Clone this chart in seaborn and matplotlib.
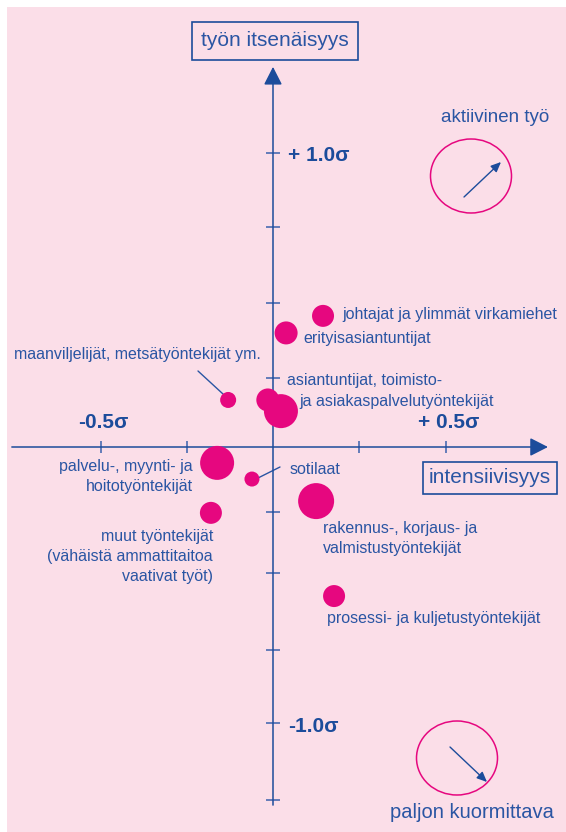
import numpy as np
import pandas as pd
import matplotlib.pyplot as plt
import seaborn as sns
from matplotlib.patches import Rectangle, Ellipse

# ammattiryhmät ja niiden sijainti (keskihajontayksikköinä)
ryhmat = ['johtajat', 'erityisasiantuntijat', 'asiantuntijat', 'toimisto- ja asiakaspalvelu',
          'maanviljelijät', 'palvelu-, myynti- ja hoito', 'sotilaat', 'muut työntekijät',
          'rakennus-, korjaus- ja valmistus', 'prosessi- ja kuljetus']
intensiivisyys = [0.145, 0.038, -0.015, 0.023, -0.130, -0.162, -0.061, -0.180, 0.125, 0.177]
itsenaisyys = [0.446, 0.388, 0.160, 0.122, 0.160, -0.054, -0.109, -0.224, -0.184, -0.507]
koko = [22, 23, 23, 34, 16, 34, 15, 22, 36, 22]  # pallon halkaisija

x_ticks = [-0.5, -0.25, 0.25, 0.5]
x_tick_labels = ['-0.5σ', '', '', '+ 0.5σ']
y_ticks = [1.0, 0.75, 0.49, 0.235, -0.22, -0.43, -0.69, -0.94, -1.20]
y_tick_labels = ['+ 1.0σ', '', '', '', '', '', '', '-1.0σ', '']

W, H = 566, 832
PINK = '#FBDEE8'
BLUE = '#2A55A3'
LINE = '#3B62AD'
DARK = '#1C4C9B'
MAGENTA = '#E6077F'

sns.set_style('white')
plt.rcParams['font.family'] = ['Liberation Sans', 'DejaVu Sans']

df = pd.DataFrame({'ryhma': ryhmat, 'x': intensiivisyys, 'y': itsenaisyys, 'koko': koko})
df['s'] = (df['koko'] * 0.72) ** 2

fig = plt.figure(figsize=(W / 100, H / 100), dpi=100)
fig.patch.set_facecolor('white')
ax = fig.add_axes([0, 0, 1, 1])
ax.set_xlim(-273 / 345, 293 / 345)
ax.set_ylim(-385 / 294, 447 / 294)
ax.axis('off')


def px(x, y):
    return x / W, 1 - y / H


ax.add_patch(Rectangle(px(7, H), 1 - 7 / W, 1 - 7 / H, transform=ax.transAxes,
                       facecolor=PINK, edgecolor='none', zorder=0))

# akselit nuolineen
ax.annotate('', xy=(0.797, 0), xytext=(-0.757, 0),
            arrowprops=dict(arrowstyle='-|>,head_length=0.55,head_width=0.28', mutation_scale=20,
                            color=DARK, lw=1.1, shrinkA=0, shrinkB=0))
ax.annotate('', xy=(0, 1.293), xytext=(0, -1.218),
            arrowprops=dict(arrowstyle='-|>,head_length=0.55,head_width=0.28', mutation_scale=20,
                            color=DARK, lw=1.1, shrinkA=0, shrinkB=0))
ax.plot(x_ticks, np.zeros(len(x_ticks)), ls='none', marker='|', ms=9, mew=1.1, color=LINE)
ax.plot(np.zeros(len(y_ticks)), y_ticks, ls='none', marker='_', ms=10, mew=1.1, color=LINE)

for xt, lab in zip(x_ticks, x_tick_labels):
    if lab:
        ax.annotate(lab, (xt, 0), xytext=(2, 18), textcoords='offset points', ha='center',
                    va='center', fontsize=15, fontweight='bold', color=DARK)
for yt, lab in zip(y_ticks, y_tick_labels):
    if lab:
        ax.annotate(lab, (0, yt), xytext=(11, -2), textcoords='offset points', ha='left',
                    va='center', fontsize=15, fontweight='bold', color=DARK)

sns.scatterplot(data=df, x='x', y='y', s=df['s'].to_numpy(), color=MAGENTA, linewidth=0,
                legend=False, ax=ax, zorder=3)
ax.set_xlabel('')
ax.set_ylabel('')

# pallojen selitteet
tk = dict(transform=ax.transAxes, color=BLUE, fontsize=11.5, va='center')
ax.text(*px(342, 315), 'johtajat ja ylimmät virkamiehet', ha='left', **tk)
ax.text(*px(303, 338), 'erityisasiantuntijat', ha='left', **tk)
ax.text(*px(14, 355), 'maanviljelijät, metsätyöntekijät ym.', ha='left', **tk)
ax.text(*px(287, 381), 'asiantuntijat, toimisto-', ha='left', **tk)
ax.text(*px(299, 402), 'ja asiakaspalvelutyöntekijät', ha='left', **tk)
ax.text(*px(193, 467), 'palvelu-, myynti- ja', ha='right', **tk)
ax.text(*px(193, 487), 'hoitotyöntekijät', ha='right', **tk)
ax.text(*px(290, 469), 'sotilaat', ha='left', **tk)
ax.text(*px(213, 537), 'muut työntekijät', ha='right', **tk)
ax.text(*px(213, 557), '(vähäistä ammattitaitoa', ha='right', **tk)
ax.text(*px(213, 577), 'vaativat työt)', ha='right', **tk)
ax.text(*px(323, 529), 'rakennus-, korjaus- ja', ha='left', **tk)
ax.text(*px(323, 548), 'valmistustyöntekijät', ha='left', **tk)
ax.text(*px(327, 618), 'prosessi- ja kuljetustyöntekijät', ha='left', **tk)

for (x0, y0), (x1, y1) in [((198, 371), (223, 394)), ((258, 478), (280, 467))]:
    ax.plot([x0 / W, x1 / W], [1 - y0 / H, 1 - y1 / H], transform=ax.transAxes, color=BLUE, lw=1)

# akselien nimet
ax.text(*px(275, 41), 'työn itsenäisyys', transform=ax.transAxes, ha='center', va='center',
        fontsize=15, color=BLUE, bbox=dict(boxstyle='square,pad=0.45', facecolor='none',
                                           edgecolor=DARK, lw=1.2))
ax.text(*px(490, 478), 'intensiivisyys', transform=ax.transAxes, ha='center', va='center',
        fontsize=15, color=BLUE, bbox=dict(boxstyle='square,pad=0.3', facecolor='none',
                                           edgecolor=DARK, lw=1.2))

# nelikenttien selitteet
ax.text(*px(495, 118), 'aktiivinen työ', transform=ax.transAxes, ha='center', va='center',
        fontsize=13.5, color=BLUE)
ax.text(*px(472, 813), 'paljon kuormittava', transform=ax.transAxes, ha='center', va='center',
        fontsize=14.5, color=BLUE)
for (cx, cy), (ax0, ay0), (ax1, ay1) in [((471, 176), (464, 197), (501, 162)),
                                         ((457, 758), (450, 747), (487, 782))]:
    ax.add_patch(Ellipse(px(cx, cy), 81 / W, 74 / H, transform=ax.transAxes,
                         facecolor='none', edgecolor=MAGENTA, lw=1.1))
    ax.annotate('', xy=px(ax1, ay1), xytext=px(ax0, ay0), xycoords='axes fraction',
                textcoords='axes fraction',
                arrowprops=dict(arrowstyle='-|>,head_length=0.5,head_width=0.22', mutation_scale=12,
                                color=DARK, lw=1, shrinkA=0, shrinkB=0))

plt.savefig('out.png', dpi=100)
